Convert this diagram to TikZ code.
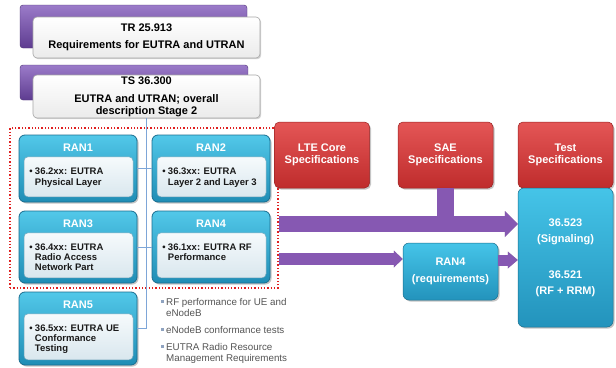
\documentclass[tikz,border=0pt]{standalone}
\usepackage{fontspec}
\setmainfont{Liberation Sans}
\usetikzlibrary{shadows,arrows.meta,calc}
\definecolor{purpleL}{HTML}{9B7BC9}
\definecolor{purpleD}{HTML}{5E3C90}
\definecolor{ranL}{HTML}{52C8E9}
\definecolor{ranD}{HTML}{1F8DB5}
\definecolor{ranB}{HTML}{1A6E90}
\definecolor{innerL}{HTML}{F6FAFC}
\definecolor{innerD}{HTML}{D9E7EE}
\definecolor{redL}{HTML}{E45656}
\definecolor{redD}{HTML}{BF2C2C}
\definecolor{blueL}{HTML}{45C4E8}
\definecolor{blueD}{HTML}{2393BC}
\definecolor{arrowC}{HTML}{8658B2}
\definecolor{linkC}{HTML}{7EA6D8}
\definecolor{dotC}{HTML}{E02020}
\definecolor{listC}{HTML}{555555}
\definecolor{sqC}{HTML}{8FA3C0}
\tikzset{
  backbox/.style={rectangle, rounded corners=3pt, top color=purpleL, bottom color=purpleD, draw=purpleD!80!black, line width=0.4pt, inner sep=0},
  frontbox/.style={rectangle, rounded corners=4pt, top color=white, bottom color=black!8, draw=black!35, line width=0.6pt, drop shadow={opacity=0.35, shadow xshift=1.2pt, shadow yshift=-1.2pt}, align=center, font=\bfseries\fontsize{11}{11.5}\selectfont, text=black, inner sep=0},
  ranbox/.style={rectangle, rounded corners=6pt, top color=ranL, bottom color=ranD, draw=ranB, line width=0.8pt, drop shadow={opacity=0.45, shadow xshift=1.5pt, shadow yshift=-1.5pt}, inner sep=0, minimum width=118},
  rantitle/.style={font=\bfseries\fontsize{11}{13}\selectfont, text=white, inner sep=0},
  innerbox/.style={rectangle, rounded corners=4pt, top color=innerL, bottom color=innerD, draw=ranB!60, line width=0.5pt, inner sep=0, minimum width=109},
  bullettext/.style={font=\bfseries\fontsize{9.5}{10.4}\selectfont, anchor=base west, inner sep=0, text=black!90},
  redbox/.style={rectangle, rounded corners=5pt, top color=redL, bottom color=redD, draw=redD!80!black, line width=0.5pt, drop shadow={opacity=0.45, shadow xshift=1.5pt, shadow yshift=-1.5pt}, text=white, align=center, font=\bfseries\fontsize{11}{12.5}\selectfont, inner sep=0, minimum width=95, minimum height=66},
  bluebox/.style={rectangle, rounded corners=6pt, top color=blueL, bottom color=blueD, draw=blueD!75!black, line width=0.5pt, drop shadow={opacity=0.45, shadow xshift=1.5pt, shadow yshift=-1.5pt}, text=white, align=center, font=\bfseries\fontsize{11}{16}\selectfont, inner sep=0},
  link/.style={draw=linkC, line width=0.7pt},
  fat/.style={draw=arrowC, line cap=butt},
  fatshadow/.style={draw=black, opacity=0.3, line cap=butt},
  listtext/.style={font=\fontsize{9.8}{11}\selectfont, text=listC, anchor=base west, inner sep=0},
  sq/.style={rectangle, fill=sqC, minimum size=3.5, inner sep=0},
}
\newcommand{\myran}[7]{%
  \node[ranbox, minimum height=#4] (#1) at (#2,#3) {};
  \node[rantitle] (#1t) at ($(#1.north)+(0,13)$) {#5};
  \node[innerbox, anchor=north, minimum height=#4-27] (#1in) at ($(#1.north)+(0.5,22)$) {};
  \node[bullettext] (#1x) at ($(#1in.north west)+(5.5,#7)$) {\begin{tabular}[t]{@{}l@{\hspace{2.2pt}}l@{}}\textbullet & #6\end{tabular}};
}
\newcommand{\mylines}[1]{\begin{tabular}[t]{@{}l@{}}#1\end{tabular}}
\begin{document}
\begin{tikzpicture}[x=1pt,y=-1pt]
\useasboundingbox (0,0) rectangle (616,367);
\fill[white] (0,0) rectangle (616,367);

% top boxes
\node[backbox, minimum width=227, minimum height=43] (trback) at (133.5,26.5) {};
\node[frontbox, minimum width=227, minimum height=41] (tr) at (146.5,37.5) {TR 25.913\\[5.5pt]Requirements for EUTRA and UTRAN};
\node[backbox, minimum width=228, minimum height=35] (tsback) at (134,82.5) {};
\node[frontbox, minimum width=227, minimum height=43] (ts) at (146.5,96.5) {\raisebox{2pt}{TS 36.300}\\[5pt]EUTRA and UTRAN; overall\\description Stage 2};

% group
\node[draw=dotC, dotted, line width=1.3pt, minimum width=268, minimum height=160, inner sep=0] (grp) at (144,208) {};

% links
\coordinate (r5y) at (0,328.5);
\draw[link] (ts.south) -- (ts.south |- r5y);

\myran{ran1}{78}{168.5}{67}{RAN1}{36.2xx: EUTRA\\ & Physical Layer}{18}
\myran{ran2}{211}{168.5}{67}{RAN2}{36.3xx: EUTRA\\ & Layer 2 and Layer 3}{18}
\myran{ran3}{78}{247}{72}{RAN3}{36.4xx: EUTRA\\ & Radio Access\\ & Network Part}{17.5}
\myran{ran4}{211}{247}{72}{RAN4}{36.1xx: EUTRA RF\\ & Performance}{17.5}
\myran{ran5}{78}{328.5}{73}{RAN5}{36.5xx: EUTRA UE\\ & Conformance\\ & Testing}{17.5}

\draw[link] (ran1.east) -- (ran2.west);
\draw[link] (ran3.east) -- (ran4.west);
\draw[link] (ran5.east) -- (ts.south |- ran5.east);

% red headers
\node[redbox] (lte) at (322,155) {LTE Core\\Specifications};
\node[redbox] (sae) at (445.5,155) {SAE\\Specifications};
\node[redbox] (tsp) at (565.5,155) {Test\\Specifications};

% blue boxes
\node[bluebox, minimum width=95, minimum height=139] (test) at (565.5,257.5) {36.523\\(Signaling)\\[20pt]36.521\\(RF + RRM)};
\node[bluebox, minimum width=95, minimum height=57, font=\bfseries\fontsize{11}{17}\selectfont] (req) at (450.5,271.5) {RAN4\\(requirements)};

% purple arrows
\coordinate (a1) at (0,224);
\coordinate (a2) at (0,259);
\coordinate (a3) at (0,260);
\begin{scope}[shift={(1.5,2)}]
\draw[fatshadow, line width=16pt, -{Triangle[width=26pt,length=13pt,line width=0pt]}] (grp.east |- a1) -- (test.west |- a1);
\draw[fatshadow, line width=12pt, -{Triangle[width=17pt,length=9pt,line width=0pt]}] (grp.east |- a2) -- (req.west |- a2);
\draw[fatshadow, line width=11pt, -{Triangle[width=17pt,length=10pt,line width=0pt]}] (req.east |- a3) -- (test.west |- a3);
\end{scope}
\draw[fat, line width=17pt] (sae.south) -- (sae.south |- a1);
\draw[fat, line width=16pt, -{Triangle[width=26pt,length=13pt,line width=0pt]}] (grp.east |- a1) -- (test.west |- a1);
\draw[fat, line width=12pt, -{Triangle[width=17pt,length=9pt,line width=0pt]}] (grp.east |- a2) -- (req.west |- a2);
\draw[fat, line width=11pt, -{Triangle[width=17pt,length=10pt,line width=0pt]}] (req.east |- a3) -- (test.west |- a3);

% bottom list
\node[sq] (s1) at (162.5,301.5) {};
\node[listtext] (l1) at (166,305) {\mylines{RF performance for UE and\\eNodeB}};
\node[sq] (s2) at (162.5,329.5) {};
\node[listtext] (l2) at (166,333) {\mylines{eNodeB conformance tests}};
\node[sq] (s3) at (162.5,346.5) {};
\node[listtext] (l3) at (166,350) {\mylines{EUTRA Radio Resource\\Management Requirements}};
\end{tikzpicture}
\end{document}
